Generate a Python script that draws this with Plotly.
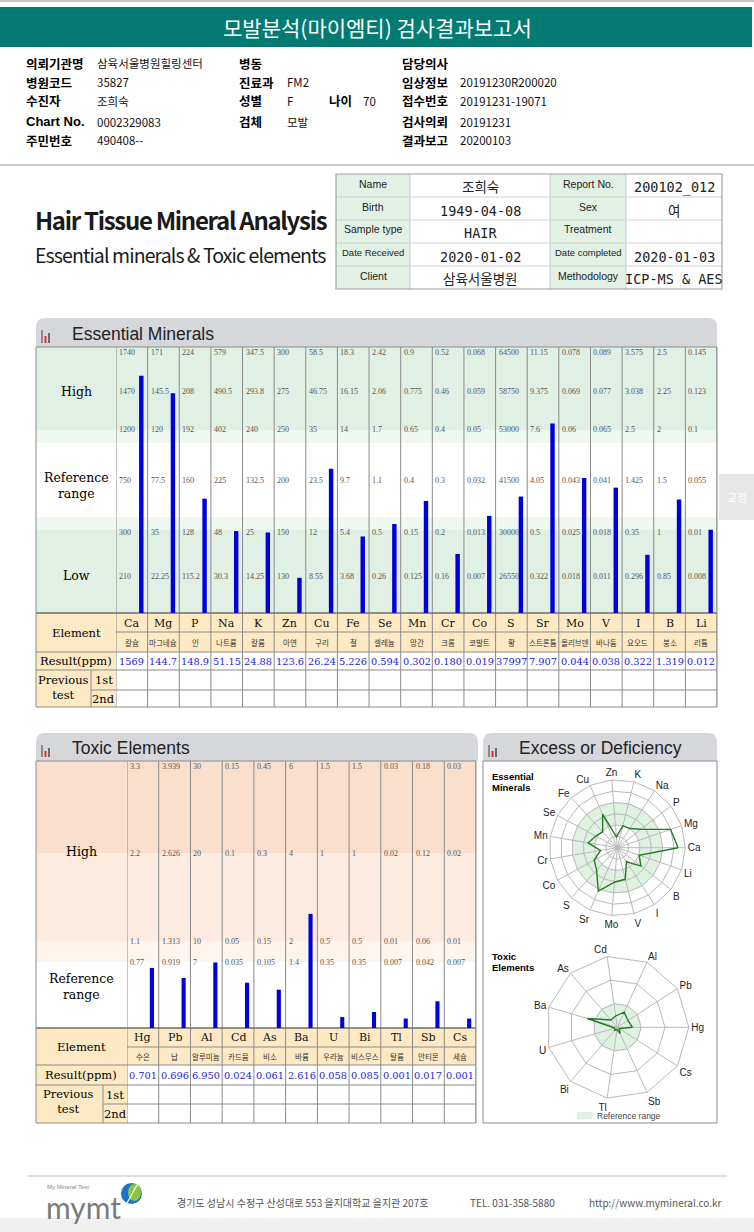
import numpy as np
import plotly.graph_objects as go

# ---------------------------------------------------------------- data
ESS_ELEMENTS = ["Ca", "Mg", "P", "Na", "K", "Zn", "Cu", "Fe", "Se", "Mn", "Cr", "Co",
                "S", "Sr", "Mo", "V", "I", "B", "Li"]
ESS_KOREAN = ["칼슘", "마그네슘", "인", "나트륨", "칼륨", "아연", "구리", "철", "셀레늄", "망간",
              "크롬", "코발트", "황", "스트론튬", "몰리브덴", "바나듐", "요오드", "붕소", "리튬"]
ESS_RESULT_TEXT = ["1569", "144.7", "148.9", "51.15", "24.88", "123.6", "26.24", "5.226",
                   "0.594", "0.302", "0.180", "0.019", "37997", "7.907", "0.044", "0.038",
                   "0.322", "1.319", "0.012"]
# scale levels per column, bottom -> top
ESS_LOW2 = [210, 22.25, 115.2, 30.3, 14.25, 130, 8.55, 3.68, 0.26, 0.125, 0.16, 0.007,
            26550, 0.322, 0.018, 0.011, 0.296, 0.85, 0.008]
ESS_LOW1 = [300, 35, 128, 48, 25, 150, 12, 5.4, 0.5, 0.15, 0.2, 0.013,
            30000, 0.5, 0.025, 0.018, 0.35, 1, 0.01]
ESS_MID = [750, 77.5, 160, 225, 132.5, 200, 23.5, 9.7, 1.1, 0.4, 0.3, 0.032,
           41500, 4.05, 0.043, 0.041, 1.425, 1.5, 0.055]
ESS_HIGH1 = [1200, 120, 192, 402, 240, 250, 35, 14, 1.7, 0.65, 0.4, 0.05,
             53000, 7.6, 0.06, 0.065, 2.5, 2, 0.1]
ESS_HIGH2 = [1470, 145.5, 208, 490.5, 293.8, 275, 46.75, 16.15, 2.06, 0.775, 0.46, 0.059,
             58750, 9.375, 0.069, 0.077, 3.038, 2.25, 0.123]
ESS_MAX = [1740, 171, 224, 579, 347.5, 300, 58.5, 18.3, 2.42, 0.9, 0.52, 0.068,
           64500, 11.15, 0.078, 0.089, 3.575, 2.5, 0.145]

TOX_ELEMENTS = ["Hg", "Pb", "Al", "Cd", "As", "Ba", "U", "Bi", "Tl", "Sb", "Cs"]
TOX_KOREAN = ["수은", "납", "알루미늄", "카드뮴", "비소", "바륨", "우라늄", "비스무스", "탈륨", "안티몬", "세슘"]
TOX_RESULT_TEXT = ["0.701", "0.696", "6.950", "0.024", "0.061", "2.616", "0.058", "0.085",
                   "0.001", "0.017", "0.001"]
TOX_REF = [0.77, 0.919, 7, 0.035, 0.105, 1.4, 0.35, 0.35, 0.007, 0.042, 0.007]
TOX_L1 = [1.1, 1.313, 10, 0.05, 0.15, 2, 0.5, 0.5, 0.01, 0.06, 0.01]
TOX_L2 = [2.2, 2.626, 20, 0.1, 0.3, 4, 1, 1, 0.02, 0.12, 0.02]
TOX_L3 = [3.3, 3.939, 30, 0.15, 0.45, 6, 1.5, 1.5, 0.03, 0.18, 0.03]

INFO_LEFT = [("의뢰기관명", "삼육서울병원힐링센터"), ("병원코드", "35827"), ("수진자", "조희숙"),
             ("Chart No.", "0002329083"), ("주민번호", "490408--")]
INFO_MID = [("병동", ""), ("진료과", "FM2"), ("성별", "F"), ("검체", "모발")]
INFO_AGE = ("나이", "70")
INFO_RIGHT = [("담당의사", ""), ("임상정보", "20191230R200020"), ("접수번호", "20191231-19071"),
              ("검사의뢰", "20191231"), ("결과보고", "20200103")]
REPORT_TABLE = [("Name", "조희숙", "Report No.", "200102_012"),
                ("Birth", "1949-04-08", "Sex", "여"),
                ("Sample type", "HAIR", "Treatment", ""),
                ("Date Received", "2020-01-02", "Date completed", "2020-01-03"),
                ("Client", "삼육서울병원", "Methodology", "ICP-MS & AES")]

# ---------------------------------------------------------------- helpers
W, H = 754, 1232
SANS = "Liberation Sans, Arial, Noto Sans CJK KR, sans-serif"
NARROW = "Noto Sans CJK KR, Liberation Sans, sans-serif"
SERIF = "DejaVu Serif, Noto Sans CJK KR, serif"
KR = "Noto Sans CJK KR, sans-serif"
MONO = "DejaVu Sans Mono, Noto Sans CJK KR, monospace"
LEVSER = "Liberation Serif, DejaVu Serif, serif"

TEAL = "#037b73"
HEAD_GRAY = "#d6d7db"
GREEN_BAND = "#e0f0e4"
GREEN_STRIP = "#eef7f0"
PEACH1 = "#fbdfcd"
PEACH2 = "#fdebdf"
PEACH3 = "#fef4ee"
BEIGE = "#fdeac4"
LINE = "#8a8a8a"
BLUE_TXT = "#2222dd"
BAR_BLUE = "#0000dc"
GRID = "#b9b9b9"


def X(p):
    return p / W


def Y(p):
    return 1 - p / H


shapes, annos = [], []


def rect(x0, y0, x1, y1, fill="rgba(0,0,0,0)", line=None, lw=1):
    shapes.append(dict(type="rect", xref="paper", yref="paper", x0=X(x0), x1=X(x1),
                       y0=Y(y1), y1=Y(y0), fillcolor=fill, layer="below",
                       line=dict(color=line or "rgba(0,0,0,0)", width=lw if line else 0)))


def seg(x0, y0, x1, y1, color=LINE, lw=1):
    shapes.append(dict(type="line", xref="paper", yref="paper", x0=X(x0), x1=X(x1),
                       y0=Y(y0), y1=Y(y1), line=dict(color=color, width=lw), layer="below"))


def round_top(x0, y0, x1, y1, r, fill):
    p = (f"M {X(x0)},{Y(y1)} L {X(x0)},{Y(y0 + r)} Q {X(x0)},{Y(y0)} {X(x0 + r)},{Y(y0)} "
         f"L {X(x1 - r)},{Y(y0)} Q {X(x1)},{Y(y0)} {X(x1)},{Y(y0 + r)} L {X(x1)},{Y(y1)} Z")
    shapes.append(dict(type="path", xref="paper", yref="paper", path=p, fillcolor=fill,
                       line=dict(width=0), layer="below"))


def txt(x, y, s, size=12, color="#000", family=SANS, xa="left", ya="middle",
        xref="paper", yref="paper", **kw):
    annos.append(dict(x=X(x) if xref == "paper" else x, y=Y(y) if yref == "paper" else y,
                      xref=xref, yref=yref, text=s, showarrow=False, xanchor=xa, yanchor=ya,
                      font=dict(size=size, color=color, family=family), **kw))


def panel_header(x0, x1, y0, y1, title):
    round_top(x0, y0, x1, y1, 9, HEAD_GRAY)
    # small bar-chart icon
    rect(x0 + 5, y0 + 12, x0 + 7, y1 - 4, fill="#8a8a8a")
    rect(x0 + 8.5, y0 + 18, x0 + 10.5, y1 - 4, fill="#e03030")
    rect(x0 + 12, y0 + 15, x0 + 14, y1 - 4, fill="#6a6a6a")
    txt(x0 + 34, (y0 + y1) / 2 + 1, title, size=17.5, color="#222", family=SANS)


# ---------------------------------------------------------------- page top
rect(0, 0, 754, 2, fill="#c4c4c4")
rect(0, 7, 752, 47, fill=TEAL)
txt(377, 27, "모발분석(마이엠티) 검사결과보고서", size=21, color="#ffffff", family=KR, xa="center")

ROW_Y = [63, 82, 101, 122, 140]
for (lab, val), yy in zip(INFO_LEFT, ROW_Y):
    chart = lab.startswith("Chart")
    txt(24, yy, f"<b>{lab}</b>", size=13 if chart else 12.5, family=SANS if chart else KR)
    txt(95, yy, val, size=11.5, family=KR, color="#111")
for (lab, val), yy in zip(INFO_MID, ROW_Y):
    txt(237, yy, f"<b>{lab}</b>", size=12.5, family=KR)
    txt(285, yy, val, size=11.5, family=KR, color="#111")
txt(327, ROW_Y[2], f"<b>{INFO_AGE[0]}</b>", size=12.5, family=KR)
txt(361, ROW_Y[2], INFO_AGE[1], size=11.5, family=KR, color="#111")
for (lab, val), yy in zip(INFO_RIGHT, ROW_Y):
    txt(400, yy, f"<b>{lab}</b>", size=12.5, family=KR)
    txt(458, yy, val, size=11.5, family=KR, color="#111")

seg(0, 165, 754, 165, color="#c8c8c8", lw=2)

# title block
txt(33, 219, '<b><span style="letter-spacing:-1.3px">Hair Tissue Mineral Analysis</span></b>',
    size=24, color="#1a1a1a", family=NARROW)
txt(33, 254, '<span style="letter-spacing:-0.9px">Essential minerals &amp; Toxic elements</span>',
    size=19.5, color="#1a1a1a", family=NARROW)

# report info table
TX = [336, 410, 550, 626, 722]
TY = [174 + 23 * k for k in range(6)]
for k, row in enumerate(REPORT_TABLE):
    y0, y1 = TY[k], TY[k + 1]
    rect(TX[0], y0, TX[1], y1, fill="#e1f1e5")
    rect(TX[2], y0, TX[3], y1, fill="#e1f1e5")
    yc = (y0 + y1) / 2
    for ci, (xa_, xb_) in enumerate([(TX[0], TX[1]), (TX[1], TX[2]), (TX[2], TX[3]), (TX[3], TX[4])]):
        s = row[ci]
        if ci % 2 == 0:
            sz = 9.5 if s.startswith("Date") else 10.5
            txt((xa_ + xb_) / 2, yc - 2, s, size=sz, color="#222", family=SANS, xa="center")
        else:
            txt((xa_ + xb_) / 2, yc + 2, s, size=13.5, color="#222", family=MONO, xa="center")
for yy in TY[1:-1]:
    seg(TX[0], yy, TX[4], yy, color="#cfcfcf")
for xx in TX[1:-1]:
    seg(xx, TY[0], xx, TY[-1], color="#cfcfcf")
rect(TX[0], TY[0], TX[4], TY[-1], line="#a0a0a0", lw=1.2)

# ---------------------------------------------------------------- essential minerals panel
E_L, E_R, E_LAB = 36, 717, 116
E_TOP, E_BOT = 347, 613
E_ROWS = [613, 632, 652, 670, 690, 707]
ESS_LEVEL_PX = [0, 37, 81, 132, 183, 221, 265]   # scale positions of the level rows

panel_header(E_L, E_R, 318, E_TOP, "Essential Minerals")


def band(x0, x1, ya_, yb_, yref, color):
    shapes.append(dict(type="rect", xref="paper", yref=yref, x0=X(x0), x1=X(x1), y0=ya_, y1=yb_,
                       fillcolor=color, line=dict(width=0), layer="below"))


band(E_L, E_R, 183, 266, "y", GREEN_BAND)
band(E_L, E_R, 170, 183, "y", GREEN_STRIP)
band(E_L, E_R, 83, 96, "y", GREEN_STRIP)
band(E_L, E_R, 0, 83, "y", GREEN_BAND)

rect(E_L, E_ROWS[0], E_R, E_ROWS[2], fill=BEIGE)
rect(E_L, E_ROWS[2], E_LAB, E_ROWS[5], fill=BEIGE)

for i in range(len(ESS_ELEMENTS) + 1):
    shapes.append(dict(type="line", xref="x", yref="paper", x0=i - 0.5, x1=i - 0.5,
                       y0=Y(E_TOP), y1=Y(E_ROWS[-1]), line=dict(color=LINE, width=1), layer="below"))
seg(91, E_ROWS[3], 91, E_ROWS[5])
seg(E_L, E_ROWS[0], E_R, E_ROWS[0], color="#6e6e6e", lw=1.3)
seg(E_LAB, E_ROWS[1], E_R, E_ROWS[1])
seg(E_L, E_ROWS[2], E_R, E_ROWS[2])
seg(E_L, E_ROWS[3], E_R, E_ROWS[3])
seg(91, E_ROWS[4], E_R, E_ROWS[4])
seg(E_L, E_ROWS[5], E_R, E_ROWS[5])
seg(E_L, E_TOP, E_L, E_ROWS[5])
seg(E_R, E_TOP, E_R, E_ROWS[5])
seg(E_L, E_TOP, E_R, E_TOP)

txt(76, 392, "High", size=12.5, family=SERIF, xa="center")
txt(76, 485, "Reference<br>range", size=12.5, family=SERIF, xa="center")
txt(76, 576, "Low", size=12.5, family=SERIF, xa="center")
txt(76, 633, "Element", size=11.5, family=SERIF, xa="center")
txt(76, 661, "Result(ppm)", size=11.5, family=SERIF, xa="center")
txt(63, 687.5, "Previous<br>test", size=11.5, family=SERIF, xa="center")
txt(103.5, 680, "1st", size=11.5, family=SERIF, xa="center")
txt(103.5, 699, "2nd", size=11.5, family=SERIF, xa="center")

ess_levels = np.array([np.zeros(len(ESS_ELEMENTS)), ESS_LOW2, ESS_LOW1, ESS_MID,
                       ESS_HIGH1, ESS_HIGH2, ESS_MAX], dtype=float).T
ess_values = np.array([float(s) for s in ESS_RESULT_TEXT])
ess_bar = [float(np.interp(v, lv, ESS_LEVEL_PX)) for v, lv in zip(ess_values, ess_levels)]
ess_radar = [float(np.interp(v, lv, np.arange(7))) for v, lv in zip(ess_values, ess_levels)]

for i, name in enumerate(ESS_ELEMENTS):
    for k in range(1, 7):
        lab = f"{ess_levels[i][k]:g}"
        top = (k == 6)
        txt(i - 0.5, ESS_LEVEL_PX[k], lab, size=8, color="#555", family=LEVSER,
            xref="x", yref="y", ya="top" if top else "middle", xshift=1, yshift=2 if top else 0)
    txt(i, 623, name, size=11, family=SERIF, xa="center", xref="x", color="#111")
    txt(i, 642, ESS_KOREAN[i], size=7.5, family=KR, xa="center", xref="x", color="#333")
    txt(i, 661, ESS_RESULT_TEXT[i], size=9.8, family=SERIF, xa="center", xref="x", color=BLUE_TXT)

fig = go.Figure()
fig.add_trace(go.Bar(x=list(range(len(ESS_ELEMENTS))), y=ess_bar, xaxis="x", yaxis="y",
                     width=0.14, offset=0.23, marker=dict(color=BAR_BLUE, line=dict(width=0)),
                     hoverinfo="skip"))

# "교정" side button
rect(719, 474, 754, 520, fill="#e7e7e7")
txt(737, 497, "교정", size=11, color="#ffffff", family=KR, xa="center")

# ---------------------------------------------------------------- toxic panel
T_L, T_R, T_LAB = 36, 476, 127
T_TOP, T_BOT = 761, 1028
T_ROWS = [1028, 1047, 1065, 1085, 1104, 1123]
TOX_LEVEL_PX = [0, 66, 87, 175, 262]

panel_header(T_L, 478, 733, T_TOP, "Toxic Elements")
band(T_L, T_R, 175, 267, "y2", PEACH1)
band(T_L, T_R, 87, 175, "y2", PEACH2)
band(T_L, T_R, 66, 87, "y2", PEACH3)

rect(T_L, T_ROWS[0], T_R, T_ROWS[2], fill=BEIGE)
rect(T_L, T_ROWS[2], T_LAB, T_ROWS[5], fill=BEIGE)
for i in range(len(TOX_ELEMENTS) + 1):
    shapes.append(dict(type="line", xref="x2", yref="paper", x0=i - 0.5, x1=i - 0.5,
                       y0=Y(T_TOP), y1=Y(T_ROWS[-1]), line=dict(color=LINE, width=1), layer="below"))
seg(103, T_ROWS[3], 103, T_ROWS[5])
seg(T_L, T_ROWS[0], T_R, T_ROWS[0], color="#6e6e6e", lw=1.3)
seg(T_LAB, T_ROWS[1], T_R, T_ROWS[1])
seg(T_L, T_ROWS[2], T_R, T_ROWS[2])
seg(T_L, T_ROWS[3], T_R, T_ROWS[3])
seg(103, T_ROWS[4], T_R, T_ROWS[4])
seg(T_L, T_ROWS[5], T_R, T_ROWS[5])
seg(T_L, T_TOP, T_L, T_ROWS[5])
seg(T_R, T_TOP, T_R, T_ROWS[5])
seg(T_L, T_TOP, T_R, T_TOP)

txt(81, 851, "High", size=12.5, family=SERIF, xa="center")
txt(81, 986, "Reference<br>range", size=12.5, family=SERIF, xa="center")
txt(81, 1047, "Element", size=11.5, family=SERIF, xa="center")
txt(81, 1075, "Result(ppm)", size=11.5, family=SERIF, xa="center")
txt(68, 1101, "Previous<br>test", size=11.5, family=SERIF, xa="center")
txt(115, 1095, "1st", size=11.5, family=SERIF, xa="center")
txt(115, 1114, "2nd", size=11.5, family=SERIF, xa="center")

tox_levels = np.array([np.zeros(len(TOX_ELEMENTS)), TOX_REF, TOX_L1, TOX_L2, TOX_L3], dtype=float).T
tox_values = np.array([float(s) for s in TOX_RESULT_TEXT])
tox_bar = [float(np.interp(v, lv, TOX_LEVEL_PX)) for v, lv in zip(tox_values, tox_levels)]
tox_radar = [float(np.interp(v, lv[[0, 2, 3, 4]], [0, 1, 2, 3])) for v, lv in zip(tox_values, tox_levels)]

for i, name in enumerate(TOX_ELEMENTS):
    for k in range(1, 5):
        txt(i - 0.5, TOX_LEVEL_PX[k], f"{tox_levels[i][k]:g}", size=8, color="#555",
            family=LEVSER, xref="x2", yref="y2", xshift=1)
    txt(i, 1037, name, size=11, family=SERIF, xa="center", xref="x2", color="#111")
    txt(i, 1056, TOX_KOREAN[i], size=7.5, family=KR, xa="center", xref="x2", color="#333")
    txt(i, 1075, TOX_RESULT_TEXT[i], size=9.8, family=SERIF, xa="center", xref="x2", color=BLUE_TXT)

fig.add_trace(go.Bar(x=list(range(len(TOX_ELEMENTS))), y=tox_bar, xaxis="x2", yaxis="y2",
                     width=0.13, offset=0.22, marker=dict(color=BAR_BLUE, line=dict(width=0)),
                     hoverinfo="skip"))

# ---------------------------------------------------------------- excess / deficiency panel
panel_header(483, 717, 733, T_TOP, "Excess or Deficiency")
rect(483, T_TOP, 717, 1123, line=LINE, lw=1)
txt(490, 776, "<b>Essential</b>", size=9.5, family=SANS)
txt(490, 787, "<b>Minerals</b>", size=9.5, family=SANS)
txt(490, 956, "<b>Toxic</b>", size=9.5, family=SANS)
txt(490, 967, "<b>Elements</b>", size=9.5, family=SANS)
rect(577, 1112, 592, 1119, fill="#dff2e2")
txt(595, 1115.5, "Reference range", size=8.5, color="#444", family=SANS)

circ = np.linspace(0, 360, 181)


def ring_fill(r_in, r_out, sub):
    return go.Scatterpolar(r=[r_out] * len(circ) + [r_in] * len(circ),
                           theta=list(circ) + list(circ[::-1]), mode="lines", fill="toself",
                           fillcolor="#dff2e2", line=dict(width=0), subplot=sub, hoverinfo="skip")


fig.add_trace(ring_fill(2, 4, "polar"))
fig.add_trace(go.Scatterpolar(r=ess_radar + [ess_radar[0]], theta=ESS_ELEMENTS + [ESS_ELEMENTS[0]],
                              mode="lines", line=dict(color="#237a23", width=1.4),
                              subplot="polar2", hoverinfo="skip"))
fig.add_trace(ring_fill(0, 1, "polar3"))
fig.add_trace(go.Scatterpolar(r=tox_radar + [tox_radar[0]], theta=TOX_ELEMENTS + [TOX_ELEMENTS[0]],
                              mode="lines", line=dict(color="#237a23", width=1.4),
                              subplot="polar4", hoverinfo="skip"))


def dom(cx, cy, r):
    return dict(x=[X(cx - r), X(cx + r)], y=[Y(cy + r), Y(cy - r)])


def plain_polar(d, rng):
    return dict(domain=d, bgcolor="rgba(0,0,0,0)",
                radialaxis=dict(visible=False, range=rng),
                angularaxis=dict(visible=False, rotation=0, direction="counterclockwise"))


def grid_polar(d, rng, cats):
    return dict(domain=d, bgcolor="rgba(0,0,0,0)", gridshape="linear",
                radialaxis=dict(range=rng, tickvals=list(range(1, rng[1] + 1)), showticklabels=False,
                                ticks="", showline=False, gridcolor=GRID, gridwidth=1),
                angularaxis=dict(type="category", categoryarray=cats, rotation=0,
                                 direction="counterclockwise", showline=True, linecolor=GRID,
                                 linewidth=1, gridcolor=GRID, ticks="",
                                 tickfont=dict(size=10, color="#222", family=SANS)))


ess_dom = dom(617.3, 847.7, 68)
tox_dom = dom(617.3, 1027.3, 71.5)

# ---------------------------------------------------------------- footer
seg(28, 1176, 727, 1176, color="#bdbdbd", lw=1)
txt(45, 1187, "My Mineral Test", size=6, color="#888", family=SANS)
txt(44, 1207, "mymt", size=30, color="#7a7a7a", family="Lato, Liberation Sans, sans-serif")
shapes.append(dict(type="circle", xref="paper", yref="paper", x0=X(121), x1=X(142), y0=Y(1204),
                   y1=Y(1183), fillcolor="#1e73c8", line=dict(width=0), layer="below"))
shapes.append(dict(type="circle", xref="paper", yref="paper", x0=X(128), x1=X(141), y0=Y(1201),
                   y1=Y(1184), fillcolor="#8cc63f", line=dict(width=0), layer="below"))
shapes.append(dict(type="line", xref="paper", yref="paper", x0=X(127), x1=X(137), y0=Y(1203),
                   y1=Y(1185), line=dict(color="#ffffff", width=1.2), layer="below"))
txt(175, 1202, "경기도 성남시 수정구 산성대로 553 을지대학교 을지관 207호", size=10, color="#555", family=KR)
txt(468, 1202, "TEL. 031-358-5880", size=10, color="#555", family=KR)
txt(587, 1202, "http://www.mymineral.co.kr", size=10, color="#555", family=KR)
rect(0, 1218, 754, 1232, fill="#efefef")

# ---------------------------------------------------------------- layout
fig.update_layout(
    width=W, height=H, margin=dict(l=0, r=0, t=0, b=0),
    paper_bgcolor="#ffffff", plot_bgcolor="rgba(0,0,0,0)",
    showlegend=False, hovermode=False,
    xaxis=dict(domain=[X(E_LAB), X(E_R)], range=[-0.5, len(ESS_ELEMENTS) - 0.5], visible=False,
               fixedrange=True),
    yaxis=dict(domain=[Y(E_BOT), Y(E_TOP)], range=[0, 266], visible=False, fixedrange=True),
    xaxis2=dict(domain=[X(T_LAB), X(T_R)], range=[-0.5, len(TOX_ELEMENTS) - 0.5], visible=False,
                fixedrange=True, anchor="y2"),
    yaxis2=dict(domain=[Y(T_BOT), Y(T_TOP)], range=[0, 267], visible=False, fixedrange=True,
                anchor="x2"),
    polar=plain_polar(ess_dom, [0, 6]),
    polar2=grid_polar(ess_dom, [0, 6], ESS_ELEMENTS),
    polar3=plain_polar(tox_dom, [0, 3]),
    polar4=grid_polar(tox_dom, [0, 3], TOX_ELEMENTS),
    shapes=shapes, annotations=annos,
)

fig.write_html("out.html", config={"displayModeBar": False},
               post_script="document.body.style.margin='0';document.body.style.padding='0';"
                           "document.body.style.overflow='hidden';")
